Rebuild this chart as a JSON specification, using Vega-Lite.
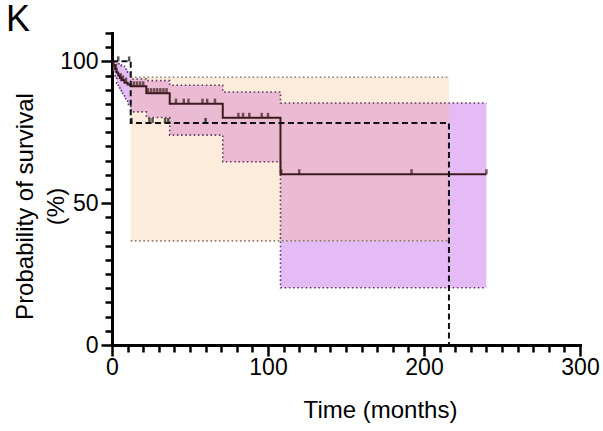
{
  "$schema": "https://vega.github.io/schema/vega-lite/v6.json",
  "width": 468,
  "height": 312,
  "autosize": {"type": "none"},
  "padding": {"left": 112, "top": 33, "right": 23, "bottom": 86},
  "background": "white",
  "title": {"text": "K", "anchor": "start", "frame": "group", "dx": -106, "dy": 17, "offset": 0, "baseline": "top", "font": "Liberation Sans", "fontSize": 36, "fontWeight": "normal", "color": "black"},
  "config": {
    "view": {"stroke": null},
    "axis": {"grid": false, "domainColor": "black", "domainWidth": 3, "tickColor": "black", "tickWidth": 2.5, "labelFont": "Liberation Sans", "labelFontSize": 23, "labelColor": "black", "titleFont": "Liberation Sans", "titleFontSize": 24, "titleFontWeight": "normal", "titleColor": "black", "domainCap": "square"}
  },
  "resolve": {"axis": {"x": "independent", "y": "independent"}},
  "datasets": {
    "bands": [
      {"group": "A", "t": 0, "lo": 100, "hi": 100},
      {"group": "A", "t": 1, "lo": 96.5, "hi": 100},
      {"group": "A", "t": 2, "lo": 94, "hi": 99.8},
      {"group": "A", "t": 3, "lo": 92.3, "hi": 99.5},
      {"group": "A", "t": 4, "lo": 90.8, "hi": 99.2},
      {"group": "A", "t": 5, "lo": 89.7, "hi": 98.8},
      {"group": "A", "t": 6, "lo": 88.7, "hi": 98.3},
      {"group": "A", "t": 8, "lo": 86.8, "hi": 97.3},
      {"group": "A", "t": 10, "lo": 84.8, "hi": 96.2},
      {"group": "A", "t": 12, "lo": 82.2, "hi": 93.8},
      {"group": "A", "t": 22, "lo": 80.2, "hi": 93.2},
      {"group": "A", "t": 37, "lo": 74.0, "hi": 91.6},
      {"group": "A", "t": 71, "lo": 64.6, "hi": 89.2},
      {"group": "A", "t": 108, "lo": 20.2, "hi": 85.3},
      {"group": "A", "t": 240, "lo": 20.2, "hi": 85.3},
      {"group": "B", "t": 12, "lo": 36.7, "hi": 94.4},
      {"group": "B", "t": 216, "lo": 36.7, "hi": 94.4}
    ],
    "curves": [
      {"group": "A", "t": 0, "s": 100},
      {"group": "A", "t": 1, "s": 98.6},
      {"group": "A", "t": 2, "s": 97.3},
      {"group": "A", "t": 3, "s": 96.1},
      {"group": "A", "t": 4, "s": 95.0},
      {"group": "A", "t": 5, "s": 94.1},
      {"group": "A", "t": 6, "s": 93.3},
      {"group": "A", "t": 8, "s": 92.5},
      {"group": "A", "t": 10, "s": 91.8},
      {"group": "A", "t": 12, "s": 91.2},
      {"group": "A", "t": 22, "s": 88.8},
      {"group": "A", "t": 37, "s": 85.1},
      {"group": "A", "t": 71, "s": 80.1},
      {"group": "A", "t": 108, "s": 60.2},
      {"group": "A", "t": 240, "s": 60.2},
      {"group": "B", "t": 0, "s": 100},
      {"group": "B", "t": 12, "s": 78.3},
      {"group": "B", "t": 216, "s": 0}
    ],
    "censor": [
      {"group": "A", "t": 2.5, "s": 97.3},
      {"group": "A", "t": 5.5, "s": 94.1},
      {"group": "A", "t": 7, "s": 93.3},
      {"group": "A", "t": 9, "s": 92.5},
      {"group": "A", "t": 14, "s": 91.2},
      {"group": "A", "t": 16, "s": 91.2},
      {"group": "A", "t": 18, "s": 91.2},
      {"group": "A", "t": 20, "s": 91.2},
      {"group": "A", "t": 23, "s": 88.8},
      {"group": "A", "t": 25, "s": 88.8},
      {"group": "A", "t": 27, "s": 88.8},
      {"group": "A", "t": 29, "s": 88.8},
      {"group": "A", "t": 31, "s": 88.8},
      {"group": "A", "t": 33, "s": 88.8},
      {"group": "A", "t": 35, "s": 88.8},
      {"group": "A", "t": 41, "s": 85.1},
      {"group": "A", "t": 46, "s": 85.1},
      {"group": "A", "t": 49, "s": 85.1},
      {"group": "A", "t": 58, "s": 85.1},
      {"group": "A", "t": 61, "s": 85.1},
      {"group": "A", "t": 66, "s": 85.1},
      {"group": "A", "t": 81, "s": 80.1},
      {"group": "A", "t": 84, "s": 80.1},
      {"group": "A", "t": 88, "s": 80.1},
      {"group": "A", "t": 96, "s": 80.1},
      {"group": "A", "t": 100, "s": 80.1},
      {"group": "A", "t": 108.5, "s": 60.2},
      {"group": "A", "t": 120, "s": 60.2},
      {"group": "A", "t": 192, "s": 60.2},
      {"group": "A", "t": 240, "s": 60.2},
      {"group": "B", "t": 4, "s": 100},
      {"group": "B", "t": 11, "s": 100},
      {"group": "B", "t": 12.5, "s": 78.3},
      {"group": "B", "t": 24, "s": 78.3},
      {"group": "B", "t": 26, "s": 78.3},
      {"group": "B", "t": 34, "s": 78.3},
      {"group": "B", "t": 36, "s": 78.3},
      {"group": "B", "t": 60, "s": 78.3}
    ]
  },
  "layer": [
    {
      "data": {"name": "bands"},
      "transform": [{"filter": "datum.group === 'A'"}],
      "mark": {"type": "area", "interpolate": "step-after", "color": "#e5bbf5", "opacity": 1},
      "encoding": {
        "x": {"field": "t", "type": "quantitative", "scale": {"domain": [0, 300], "nice": false},
          "axis": {"title": "Time (months)", "orient": "bottom", "values": [0,10,20,30,40,50,60,70,80,90,100,110,120,130,140,150,160,170,180,190,200,210,220,230,240,250,260,270,280,290,300],
            "labelExpr": "datum.value % 100 === 0 ? datum.label : ''",
            "tickSize": {"condition": {"test": "datum.value % 100 === 0", "value": 11}, "value": 7},
            "labelPadding": 0, "labelFlush": false, "labelOverlap": false, "labelBaseline": "top",
            "titleX": 268, "titleY": 72, "titleBaseline": "alphabetic", "titleAnchor": "middle", "titleAlign": "center"}},
        "y": {"field": "lo", "type": "quantitative", "scale": {"domain": [0, 110], "nice": false, "zero": true},
          "axis": {"title": ["Probability of survival", "(%)"], "orient": "left", "values": [0,5,10,15,20,25,30,35,40,45,50,55,60,65,70,75,80,85,90,95,100,105,110],
            "labelExpr": "datum.value % 50 === 0 ? datum.label : ''",
            "tickSize": {"condition": {"test": "datum.value % 50 === 0", "value": 11}, "value": 7},
            "labelPadding": 3, "labelFlush": false, "labelOverlap": false,
            "titleAngle": 270, "titleX": -99, "titleY": 173, "titleBaseline": "top", "titleAlign": "center", "titleLineHeight": 31}},
        "y2": {"field": "hi"}
      }
    },
    {
      "data": {"name": "bands"},
      "transform": [{"filter": "datum.group === 'B'"}],
      "mark": {"type": "area", "interpolate": "step-after", "color": "#f8bc87", "opacity": 0.3},
      "encoding": {
        "x": {"field": "t", "type": "quantitative", "axis": null},
        "y": {"field": "lo", "type": "quantitative", "axis": null},
        "y2": {"field": "hi"}
      }
    },
    {
      "data": {"name": "bands"},
      "transform": [{"filter": "datum.group === 'A'"}],
      "mark": {"type": "line", "interpolate": "step-after", "color": "#5e3a63", "strokeWidth": 1.6, "strokeDash": [1.6, 2.6]},
      "encoding": {
        "x": {"field": "t", "type": "quantitative", "axis": null},
        "y": {"field": "hi", "type": "quantitative", "axis": null}
      }
    },
    {
      "data": {"name": "bands"},
      "transform": [{"filter": "datum.group === 'A'"}],
      "mark": {"type": "line", "interpolate": "step-after", "color": "#5e3a63", "strokeWidth": 1.6, "strokeDash": [1.6, 2.6]},
      "encoding": {
        "x": {"field": "t", "type": "quantitative", "axis": null},
        "y": {"field": "lo", "type": "quantitative", "axis": null}
      }
    },
    {
      "data": {"name": "bands"},
      "transform": [{"filter": "datum.group === 'B'"}],
      "mark": {"type": "line", "interpolate": "step-after", "color": "#8c7f78", "strokeWidth": 1.6, "strokeDash": [1.6, 2.6]},
      "encoding": {
        "x": {"field": "t", "type": "quantitative", "axis": null},
        "y": {"field": "hi", "type": "quantitative", "axis": null}
      }
    },
    {
      "data": {"name": "bands"},
      "transform": [{"filter": "datum.group === 'B'"}],
      "mark": {"type": "line", "interpolate": "step-after", "color": "#8c7f78", "strokeWidth": 1.6, "strokeDash": [1.6, 2.6]},
      "encoding": {
        "x": {"field": "t", "type": "quantitative", "axis": null},
        "y": {"field": "lo", "type": "quantitative", "axis": null}
      }
    },
    {
      "data": {"name": "curves"},
      "transform": [{"filter": "datum.group === 'A'"}],
      "mark": {"type": "line", "interpolate": "step-after", "color": "#3d1d1d", "strokeWidth": 2},
      "encoding": {
        "x": {"field": "t", "type": "quantitative", "axis": null},
        "y": {"field": "s", "type": "quantitative", "axis": null}
      }
    },
    {
      "data": {"name": "curves"},
      "transform": [{"filter": "datum.group === 'B'"}],
      "mark": {"type": "line", "interpolate": "step-after", "color": "#111111", "strokeWidth": 2, "strokeDash": [6, 3.5]},
      "encoding": {
        "x": {"field": "t", "type": "quantitative", "axis": null},
        "y": {"field": "s", "type": "quantitative", "axis": null}
      }
    },
    {
      "data": {"name": "censor"},
      "mark": {"type": "tick", "orient": "vertical", "size": 5, "thickness": 2.5, "yOffset": -2.5},
      "encoding": {
        "x": {"field": "t", "type": "quantitative", "axis": null},
        "y": {"field": "s", "type": "quantitative", "axis": null},
        "color": {"field": "group", "type": "nominal", "scale": {"domain": ["A", "B"], "range": ["#3d1d1d", "#111111"]}, "legend": null}
      }
    }
  ]
}
